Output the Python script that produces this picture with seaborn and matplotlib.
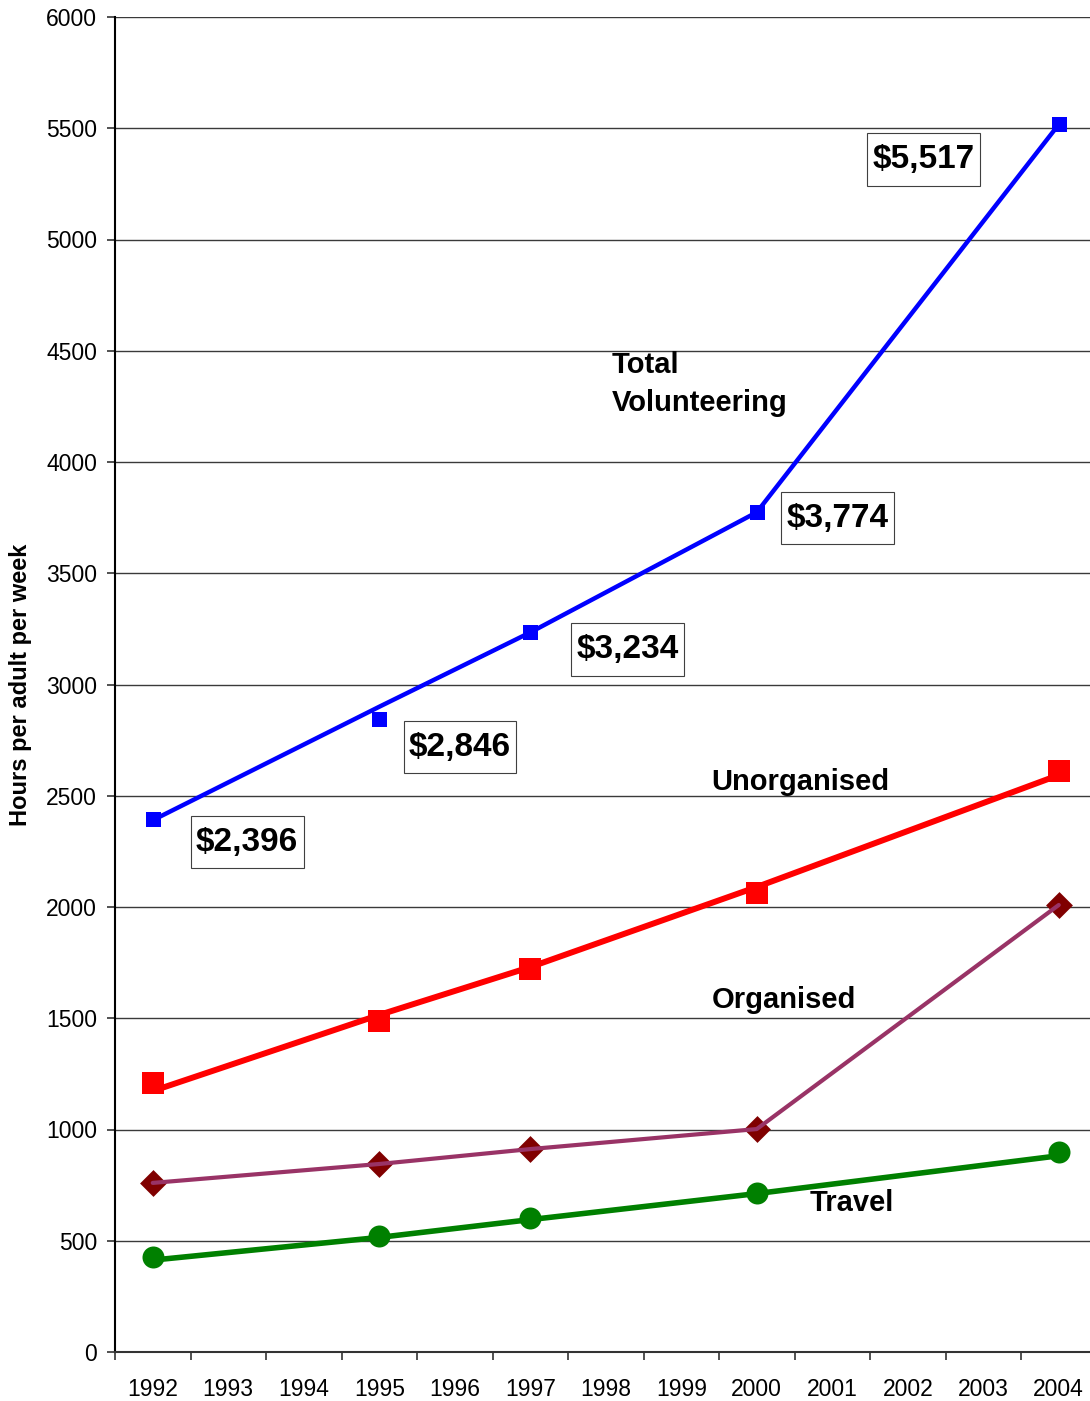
import numpy as np
import pandas as pd
import matplotlib
matplotlib.use("Agg")
import matplotlib.pyplot as plt
import seaborn as sns

# category axis
years = [str(y) for y in range(1992, 2005)]
survey_years = ["1992", "1995", "1997", "2000", "2004"]

# marker values (survey points)
total_pts = [2396, 2846, 3234, 3774, 5517]
unorg_pts = [1209, 1488, 1721, 2063, 2611]
org_pts = [760, 845, 912, 1002, 2009]
travel_pts = [427, 521, 602, 715, 899]

# line values (drawn lines, slightly off the markers in the original)
total_line = [2390, 2900, 3234, 3774, 5517]
unorg_line = [1173, 1515, 1730, 2090, 2593]
org_line = [760, 845, 912, 1002, 2009]
travel_line = [413, 515, 595, 712, 882]

value_labels = ["$2,396", "$2,846", "$3,234", "$3,774", "$5,517"]
# label box centres (category index, value)
label_x = [1.25, 4.07, 6.29, 9.07, 10.21]
label_y = [2292, 2719, 3157, 3748, 5360]

sns.set_style("white")
plt.rcParams["font.family"] = ["Liberation Sans", "DejaVu Sans"]
plt.rcParams["text.color"] = "black"
plt.rcParams["axes.labelcolor"] = "black"
plt.rcParams["xtick.color"] = "black"
plt.rcParams["ytick.color"] = "black"

pos = [years.index(y) for y in survey_years]

fig = plt.figure(figsize=(10.9, 14.01), dpi=100)
ax = fig.add_axes([115 / 1090, 1 - 1352 / 1401, 981.5 / 1090, (1352 - 17) / 1401])

series = [
    # pts, line, line colour, marker, marker colour, marker size, line width
    (total_pts, total_line, "#0000FF", "s", "#0000FF", 15, 3.2),
    (unorg_pts, unorg_line, "#FF0000", "s", "#FF0000", 22, 4.3),
    (org_pts, org_line, "#993366", "D", "#800000", 19, 3.0),
    (travel_pts, travel_line, "#008000", "o", "#008000", 22, 4.0),
]

for pts, line, lc, mk, mc, ms, lw in series:
    sns.scatterplot(x=pos, y=pts, marker=mk, color=mc, s=(ms * 0.72) ** 2,
                    linewidth=0, ax=ax, zorder=3)
    sns.lineplot(x=pos, y=line, color=lc, linewidth=lw, ax=ax, zorder=4,
                 estimator=None, sort=False)

for txt, lx, ly in zip(value_labels, label_x, label_y):
    ax.text(lx, ly, txt, fontsize=24, fontweight="bold", ha="center", va="center",
            color="black",
            bbox=dict(boxstyle="square,pad=0.16", fc="white", ec="#404040", lw=0.8,
                      mutation_aspect=2.0),
            zorder=5)

ax.text(6.08, 4352, "Total\nVolunteering", fontsize=21, fontweight="bold",
        ha="left", va="center", linespacing=1.45)
ax.text(7.40, 2562, "Unorganised", fontsize=21, fontweight="bold", ha="left", va="center")
ax.text(7.40, 1582, "Organised", fontsize=21, fontweight="bold", ha="left", va="center")
ax.text(8.70, 670, "Travel", fontsize=21, fontweight="bold", ha="left", va="center")

ax.set_xlim(-0.5, 12.5)
ax.set_ylim(0, 6000)
ax.set_yticks(np.arange(0, 6001, 500))
ax.yaxis.grid(True, color="#3a3a3a", linewidth=1.0)
ax.set_axisbelow(True)

# ticks at category boundaries, labels at centres
ax.set_xticks(np.arange(-0.5, 12.6, 1.0))
ax.set_xticklabels([])
ax.set_xticks(range(len(years)), minor=True)
ax.set_xticklabels(years, minor=True, fontsize=16.5)
ax.tick_params(axis="x", which="major", direction="out", length=6, width=1.2, color="#333333")
ax.tick_params(axis="x", which="minor", length=0, pad=19)
ax.tick_params(axis="y", direction="out", length=6, width=1.2, color="#333333",
               labelsize=16.5, pad=7)
ax.tick_params(left=True, bottom=True)

for s in ["top", "right"]:
    ax.spines[s].set_visible(False)
ax.spines["left"].set_color("black")
ax.spines["left"].set_linewidth(1.5)
ax.spines["bottom"].set_color("#333333")
ax.spines["bottom"].set_linewidth(1.5)

ax.set_ylabel("Hours per adult per week", fontsize=17, fontweight="bold", labelpad=10)
ax.set_xlabel("")

plt.savefig("out.png", dpi=100)
